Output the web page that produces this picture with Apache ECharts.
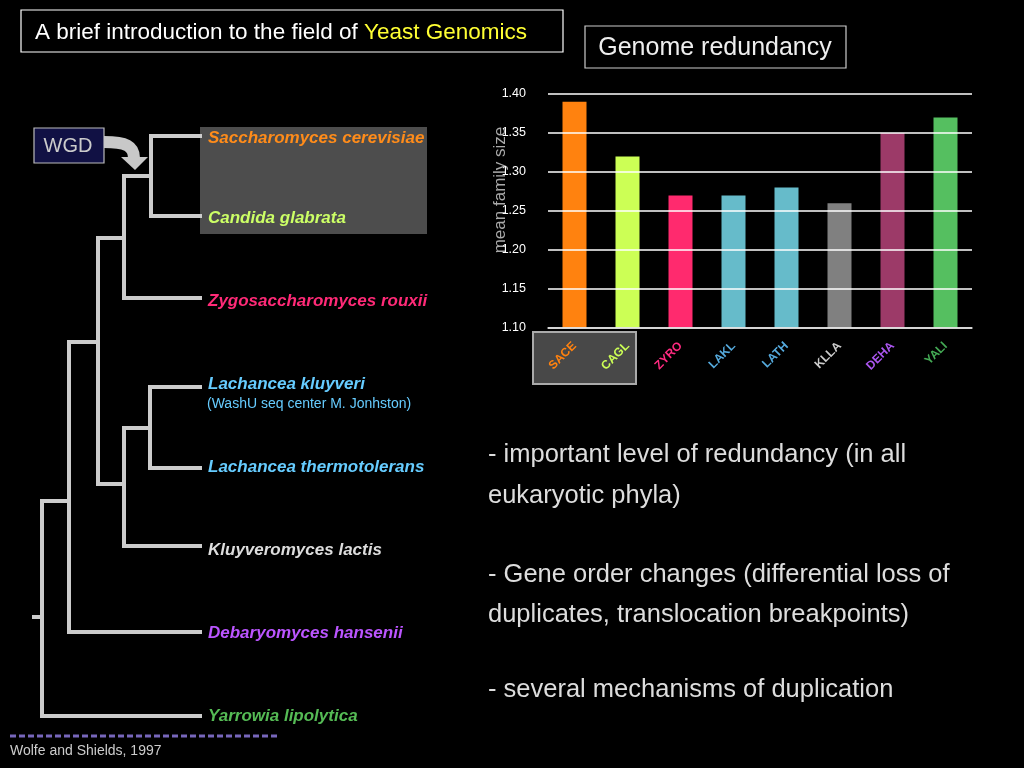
<!DOCTYPE html>
<html>
<head>
<meta charset="utf-8">
<script src="https://cdn.jsdelivr.net/npm/echarts@6/dist/echarts.min.js"></script>
<style>
html,body{margin:0;padding:0;background:#000;}
#c{width:1024px;height:768px;}
</style>
</head>
<body>
<div id="c"></div>
<script>
// ---- data ----
const categories = ['SACE', 'CAGL', 'ZYRO', 'LAKL', 'LATH', 'KLLA', 'DEHA', 'YALI'];
const meanFamilySize = [1.39, 1.32, 1.27, 1.27, 1.28, 1.26, 1.35, 1.37];
const barColors = ['#ff820f', '#ccff55', '#ff2a6e', '#66bbca', '#66bbca', '#808080', '#9c3a68', '#55bf60'];
const labelColors = ['#ff820f', '#ccff55', '#ff2a80', '#55aadd', '#55aadd', '#cccccc', '#aa55ee', '#44aa55'];
const yTicks = ['1.10', '1.15', '1.20', '1.25', '1.30', '1.35', '1.40'];
const species = ['Saccharomyces cerevisiae', 'Candida glabrata', 'Zygosaccharomyces rouxii',
  'Lachancea kluyveri', 'Lachancea thermotolerans', 'Kluyveromyces lactis',
  'Debaryomyces hansenii', 'Yarrowia lipolytica'];
const speciesColors = ['#ff8c1a', '#ccff66', '#ff2a77', '#66ccff', '#66ccff', '#dddddd', '#bb55ff', '#55bb55'];
const bullets = ['- important level of redundancy (in all', 'eukaryotic phyla)', '',
  '- Gene order changes (differential loss of', 'duplicates, translocation breakpoints)', '',
  '- several mechanisms of duplication'];

const FONT = '"Liberation Sans", Arial, sans-serif';
const chart = echarts.init(document.getElementById('c'), null, {renderer: 'canvas'});

// --- decorative slide graphics ---
const g = [];
const TREE = '#cccccc';
function line(points) {
  g.push({type: 'polyline', z: 1, shape: {points: points},
    style: {stroke: TREE, lineWidth: 4, fill: null, lineJoin: 'miter', lineCap: 'square'}});
}
// title box
g.push({type: 'rect', z: 1, shape: {x: 21, y: 10, width: 542, height: 42},
  style: {fill: '#000', stroke: '#ffffff', lineWidth: 1.2}});
g.push({type: 'text', z: 2, x: 35, y: 33, style: {
  text: '{a|A brief introduction to the field of }{b|Yeast Genomics}',
  verticalAlign: 'middle', font: '22.5px ' + FONT,
  rich: {a: {fill: '#ffffff', fontSize: 22.5, fontFamily: FONT}, b: {fill: '#ffff33', fontSize: 22.5, fontFamily: FONT}}
}});
// Genome redundancy box
g.push({type: 'rect', z: 1, shape: {x: 585, y: 26, width: 261, height: 42},
  style: {fill: '#000', stroke: '#cccccc', lineWidth: 1.2}});
g.push({type: 'text', z: 2, x: 715, y: 48, style: {
  text: 'Genome redundancy', fill: '#eeeeee', font: '25px ' + FONT, align: 'center', verticalAlign: 'middle'}});

// gray box behind S. cerevisiae / C. glabrata
g.push({type: 'rect', z: 0, shape: {x: 200, y: 127, width: 227, height: 107}, style: {fill: '#4d4d4d'}});

// tree
line([[200,136],[151,136],[151,216],[200,216]]);
line([[124,176],[151,176]]);
line([[124,176],[124,298],[200,298]]);
line([[98,238],[124,238]]);
line([[98,238],[98,484],[124,484]]);
line([[124,428],[124,546],[200,546]]);
line([[124,428],[150,428]]);
line([[200,387],[150,387],[150,468],[200,468]]);
line([[69,342],[98,342]]);
line([[69,342],[69,632],[200,632]]);
line([[42,501],[69,501]]);
line([[42,501],[42,716],[200,716]]);
line([[34,617],[42,617]]);

// WGD box + arrow
g.push({type: 'rect', z: 1, shape: {x: 34, y: 128, width: 70, height: 35},
  style: {fill: '#111144', stroke: '#bbbbbb', lineWidth: 1.2}});
g.push({type: 'text', z: 2, x: 68, y: 146, style: {
  text: 'WGD', fill: '#cccccc', font: '20px ' + FONT, align: 'center', verticalAlign: 'middle'}});
g.push({type: 'bezierCurve', z: 1, shape: {x1: 104, y1: 142, x2: 134, y2: 158, cpx1: 126, cpy1: 142, cpx2: 134, cpy2: 146},
  style: {stroke: '#c8c8c8', lineWidth: 12, fill: null}});
g.push({type: 'polygon', z: 1, shape: {points: [[121,157],[148,157],[135,170]]}, style: {fill: '#c8c8c8'}});

// species labels
const speciesY = [138, 218, 301, 384, 467, 550, 633, 716];
species.forEach((s, i) => {
  g.push({type: 'text', z: 2, x: 208, y: speciesY[i], style: {
    text: s, fill: speciesColors[i], font: 'italic bold 17px ' + FONT, verticalAlign: 'middle'}});
});
g.push({type: 'text', z: 2, x: 207, y: 404, style: {
  text: '(WashU seq center M. Jonhston)', fill: '#66ccff', font: '14px ' + FONT, verticalAlign: 'middle'}});

// footer
g.push({type: 'line', z: 1, shape: {x1: 10, y1: 736, x2: 280, y2: 736},
  style: {stroke: '#7766bb', lineWidth: 3, lineDash: [6, 3]}});
g.push({type: 'text', z: 2, x: 10, y: 751, style: {
  text: 'Wolfe and Shields, 1997', fill: '#cccccc', font: '14px ' + FONT, verticalAlign: 'middle'}});

// bullet text
const bulletY = [455, 496, 0, 575, 615, 0, 690];
bullets.forEach((t, i) => {
  if (!t) return;
  g.push({type: 'text', z: 2, x: 488, y: bulletY[i], style: {
    text: t, fill: '#dddddd', font: '25.5px ' + FONT, verticalAlign: 'middle'}});
});

// box behind SACE/CAGL labels
g.push({type: 'rect', z: 0, shape: {x: 533, y: 332, width: 103, height: 52},
  style: {fill: '#484848', stroke: '#aaaaaa', lineWidth: 2}});

// y axis name
g.push({type: 'text', z: 3, x: 500, y: 190, rotation: Math.PI / 2, style: {
  text: 'mean family size', fill: '#aaaaaa', font: '17px ' + FONT, align: 'center', verticalAlign: 'middle'}});

const option = {
  backgroundColor: '#000000',
  animation: false,
  textStyle: {fontFamily: FONT},
  grid: {left: 548, right: 52, top: 94, bottom: 440, containLabel: false},
  xAxis: {
    type: 'category', data: categories, z: 10,
    axisLine: {show: true, lineStyle: {color: '#dddddd', width: 1.5}},
    axisTick: {show: false},
    axisLabel: {
      rotate: 45, margin: 16, fontSize: 12, fontWeight: 'bold', fontFamily: FONT,
      color: (v, i) => labelColors[i]
    }
  },
  yAxis: {
    type: 'value', min: 1.1, max: 1.4, interval: 0.05, z: 10,
    axisLine: {show: false}, axisTick: {show: false},
    splitLine: {show: true, lineStyle: {color: '#ffffff', width: 1.5}},
    axisLabel: {margin: 22, fontSize: 12.5, color: '#ffffff', fontFamily: FONT,
      formatter: (v) => {
        const idx = Math.round((v - 1.1) / 0.05);
        return yTicks[idx] !== undefined ? yTicks[idx] : v.toFixed(2);
      }}
  },
  series: [{
    type: 'bar', barWidth: 24,
    data: meanFamilySize.map((v, i) => ({value: v, itemStyle: {color: barColors[i]}}))
  }],
  graphic: g
};
chart.setOption(option);
</script>
</body>
</html>
